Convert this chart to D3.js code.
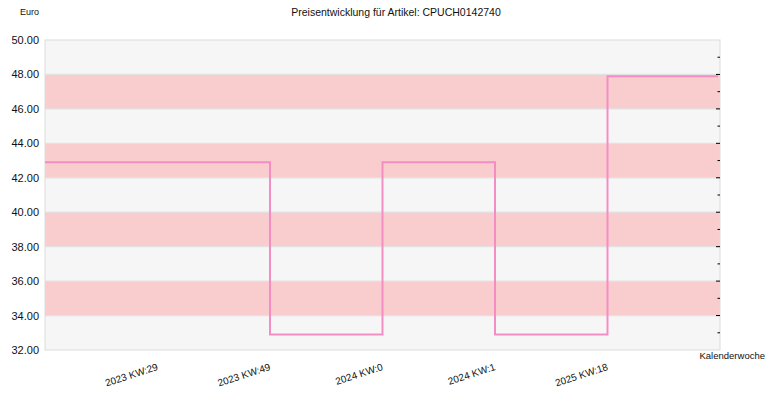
<!DOCTYPE html>
<html><head><meta charset="utf-8">
<script src="https://cdn.jsdelivr.net/npm/d3@7"></script>
<style>body{margin:0;background:#fff}svg{display:block}text{font-family:"Liberation Sans",Arial,sans-serif;fill:#111}</style>
</head><body><svg id="c" width="770" height="400"></svg>
<script>
const categories = ["2023 KW:29", "2023 KW:49", "2024 KW:0", "2024 KW:1", "2025 KW:18"];
const prices = [42.9, 32.9, 42.9, 32.9, 47.9];
const yTicks = [32, 34, 36, 38, 40, 42, 44, 46, 48, 50];
const title = "Preisentwicklung für Artikel: CPUCH0142740";
const yTitle = "Euro";
const xTitle = "Kalenderwoche";

const svg = d3.select("#c");
const L = 45, R = 720, T = 40, B = 350;
const x = d3.scalePoint().domain(categories).range([L, R]).padding(1);
const y = d3.scaleLinear().domain([32, 50]).range([B, T]);

svg.append("rect").attr("x", L).attr("y", T).attr("width", R - L).attr("height", B - T).attr("fill", "#f6f6f6");
// bands
const bands = yTicks.filter(v => v < 50 && v % 4 === 2);
svg.selectAll("rect.band").data(bands).join("rect").attr("class", "band")
  .attr("x", L).attr("width", R - L)
  .attr("y", d => y(d + 2)).attr("height", d => y(d) - y(d + 2))
  .attr("fill", "#f9cccd");
// grid
svg.selectAll("line.grid").data(yTicks.slice(1, -1)).join("line").attr("class", "grid")
  .attr("x1", L).attr("x2", R).attr("y1", d => y(d)).attr("y2", d => y(d))
  .attr("stroke", "#e2e2e2").attr("stroke-width", 1.2);
svg.append("rect").attr("x", L).attr("y", T).attr("width", R - L).attr("height", B - T)
  .attr("fill", "none").attr("stroke", "#dcdcdc").attr("stroke-width", 1);

// y axis labels
const yAxis = d3.axisLeft(y).tickValues(yTicks).tickFormat(d3.format(".2f")).tickSize(0).tickPadding(6);
const ga = svg.append("g").attr("transform", `translate(${L},0)`).call(yAxis);
ga.select(".domain").remove();
ga.selectAll("text").style("font-size", "11px").attr("fill", "#111").attr("font-family", "Liberation Sans, Arial, sans-serif");

// right ticks
const minor = d3.range(33, 50, 2);
svg.selectAll("line.maj").data(yTicks.slice(1, -1)).join("line")
  .attr("x1", R - 4).attr("x2", R).attr("y1", d => y(d)).attr("y2", d => y(d)).attr("stroke", "#000");
svg.selectAll("line.min").data(minor).join("line")
  .attr("x1", R - 2.5).attr("x2", R).attr("y1", d => y(d)).attr("y2", d => y(d)).attr("stroke", "#000");

// step line
const pts = [[L, prices[0]]].concat(categories.map((c, i) => [x(c), prices[i]])).concat([[R - 2, prices[prices.length - 1]]]);
const line = d3.line().x(d => d[0]).y(d => y(d[1])).curve(d3.curveStepAfter);
svg.append("path").attr("d", line(pts)).attr("fill", "none").attr("stroke", "#f58dc5").attr("stroke-width", 2);

// x labels
svg.selectAll("text.xl").data(categories).join("text").attr("class", "xl")
  .attr("transform", d => `translate(${x(d) - 1},${363}) rotate(-18)`)
  .attr("text-anchor", "end").attr("dy", "0.7em").style("font-size", "10px").text(d => d);

svg.append("text").attr("x", 396).attr("y", 16).attr("text-anchor", "middle").style("font-size", "10.5px").text(title);
svg.append("text").attr("x", 20).attr("y", 15).style("font-size", "9px").text(yTitle);
svg.append("text").attr("x", 765).attr("y", 359).attr("text-anchor", "end").style("font-size", "9.5px").text(xTitle);
</script></body></html>
